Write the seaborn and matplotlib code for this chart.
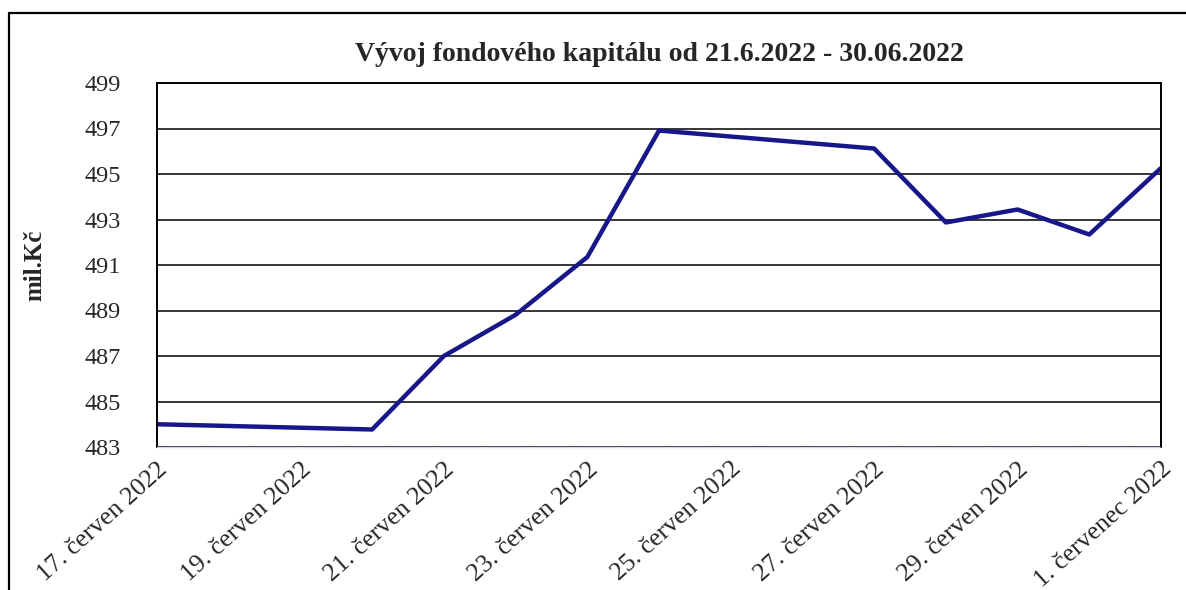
import pandas as pd
import seaborn as sns
import matplotlib.pyplot as plt
from matplotlib.lines import Line2D

# data (mil. Kč)
dates = ["2022-06-17", "2022-06-20", "2022-06-21", "2022-06-22", "2022-06-23",
         "2022-06-24", "2022-06-27", "2022-06-28", "2022-06-29", "2022-06-30",
         "2022-07-01"]
values = [484.0, 483.77, 487.0, 488.81, 491.35, 496.91, 496.12, 492.87, 493.44, 492.34, 495.26]

tick_dates = ["2022-06-17", "2022-06-19", "2022-06-21", "2022-06-23",
              "2022-06-25", "2022-06-27", "2022-06-29", "2022-07-01"]
tick_labels = ["17. červen 2022", "19. červen 2022", "21. červen 2022", "23. červen 2022",
               "25. červen 2022", "27. červen 2022", "29. červen 2022", "1. červenec 2022"]
y_ticks = [483, 485, 487, 489, 491, 493, 495, 497, 499]

df = pd.DataFrame({"datum": pd.to_datetime(dates), "kapital": values})

sns.set_style("white")
plt.rcParams["font.family"] = ["Liberation Serif", "DejaVu Serif"]

fig = plt.figure(figsize=(11.86, 5.90), dpi=100)
ax = fig.add_axes([157 / 1186, 1 - 447 / 590, 1004 / 1186, 364 / 590])

sns.lineplot(data=df, x="datum", y="kapital", ax=ax, color="#17178a", linewidth=3.2)

ax.set_xlim(pd.Timestamp(dates[0]), pd.Timestamp(dates[-1]))
ax.set_ylim(y_ticks[0], y_ticks[-1])
ax.set_yticks(y_ticks)
ax.set_yticklabels([str(v) for v in y_ticks], fontsize=17.5)
ax.set_xticks(pd.to_datetime(tick_dates))
ax.set_xticklabels(tick_labels, fontsize=18.5, rotation=42, ha="right",
                   va="top", rotation_mode="anchor")

ax.grid(axis="y", color="black", linewidth=1.1)
ax.grid(axis="x", visible=False)
ax.tick_params(axis="y", length=0, pad=26)
ax.tick_params(axis="x", length=5, width=1, color="#c8c8c8", direction="out", pad=3)

for side in ["left", "right", "top"]:
    ax.spines[side].set_color("black")
    ax.spines[side].set_linewidth(1.4)
ax.spines["bottom"].set_color("#c8c8e0")
ax.spines["bottom"].set_linestyle(":")
ax.spines["bottom"].set_linewidth(1)

ax.set_title("Vývoj fondového kapitálu od 21.6.2022 - 30.06.2022",
             fontsize=20, fontweight="bold", pad=16)
ax.set_xlabel("")
ax.set_ylabel("mil.Kč", fontsize=18, fontweight="bold")
ax.yaxis.set_label_coords(-0.11, 0.5)

# chart area border like the spreadsheet original
fx, fy = 9 / 1186, 1 - 13 / 590
fig.add_artist(Line2D([fx, fx], [0, fy], transform=fig.transFigure, color="black", linewidth=1.6))
fig.add_artist(Line2D([fx, 1], [fy, fy], transform=fig.transFigure, color="black", linewidth=1.6))

fig.savefig("out.png", dpi=100)
